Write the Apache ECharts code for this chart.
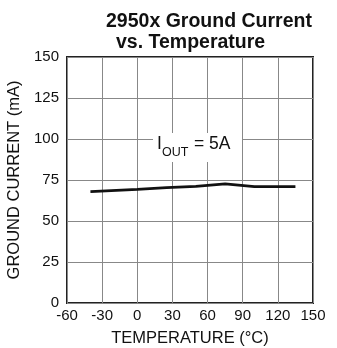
<!DOCTYPE html>
<html><head><meta charset="utf-8">
<script src="https://cdn.jsdelivr.net/npm/echarts@6/dist/echarts.min.js"></script>
<style>html,body{margin:0;padding:0;background:#fff}#c{width:337px;height:348px}</style>
</head><body><div id="c"></div>
<script>
const temperatures = [-40, 0, 25, 50, 75, 100, 135];
const groundCurrent = [67.9, 69.3, 70.3, 71.1, 72.6, 70.9, 70.9];
const xTicks = [-60, -30, 0, 30, 60, 90, 120, 150];
const yTicks = [0, 25, 50, 75, 100, 125, 150];
const titleLine1 = '2950x Ground Current';
const titleLine2 = 'vs. Temperature';

const chart = echarts.init(document.getElementById('c'));
const F = 'Liberation Sans, Arial, sans-serif';
chart.setOption({
  animation: false,
  backgroundColor: '#fff',
  title: [
    {text: titleLine1, left: 101, top: 7, textStyle: {fontFamily: F, fontSize: 19.5, fontWeight: 'bold', color: '#111'}},
    {text: titleLine2, left: 111, top: 28, textStyle: {fontFamily: F, fontSize: 19.5, fontWeight: 'bold', color: '#111'}}
  ],
  grid: {left: 67, right: 24, top: 57, bottom: 45, outerBoundsMode: 'none', containLabel: false,
    show: true, borderColor: '#222', borderWidth: 2, backgroundColor: 'transparent'},
  xAxis: {
    type: 'value', min: -60, max: 150, interval: 30,
    name: 'TEMPERATURE (°C)', nameLocation: 'middle', nameGap: 27,
    nameTextStyle: {fontFamily: F, fontSize: 16.5, color: '#111'},
    axisLine: {show: false}, axisTick: {show: false},
    axisLabel: {fontFamily: F, fontSize: 15, color: '#111', margin: 5,
      formatter: v => xTicks.includes(v) ? String(v) : ''},
    splitLine: {show: true, lineStyle: {color: '#888', width: 1}}
  },
  yAxis: {
    type: 'value', min: 0, max: 150, interval: 25,
    name: 'GROUND CURRENT (mA)', nameLocation: 'middle', nameGap: 39,
    nameTextStyle: {fontFamily: F, fontSize: 16.5, color: '#111'},
    axisLine: {show: false}, axisTick: {show: false},
    axisLabel: {fontFamily: F, fontSize: 15, color: '#111', margin: 8,
      formatter: v => yTicks.includes(v) ? String(v) : ''},
    splitLine: {show: true, lineStyle: {color: '#888', width: 1}}
  },
  series: [{
    type: 'line', data: temperatures.map((t, i) => [t, groundCurrent[i]]),
    showSymbol: false, lineStyle: {color: '#111', width: 2.8}, z: 5
  }],
  graphic: [
    {type: 'rect', z: 10, shape: {x: 153, y: 133, width: 89, height: 29}, style: {fill: '#fff'}},
    {type: 'text', left: 157, top: 135, z: 11,
      style: {text: 'I', font: '17.5px ' + F, fill: '#111'}},
    {type: 'text', left: 162, top: 146, z: 11,
      style: {text: 'OUT', font: '12.5px ' + F, fill: '#111'}},
    {type: 'text', left: 194, top: 135, z: 11,
      style: {text: '= 5A', font: '17.5px ' + F, fill: '#111'}}
  ]
});
</script></body></html>
